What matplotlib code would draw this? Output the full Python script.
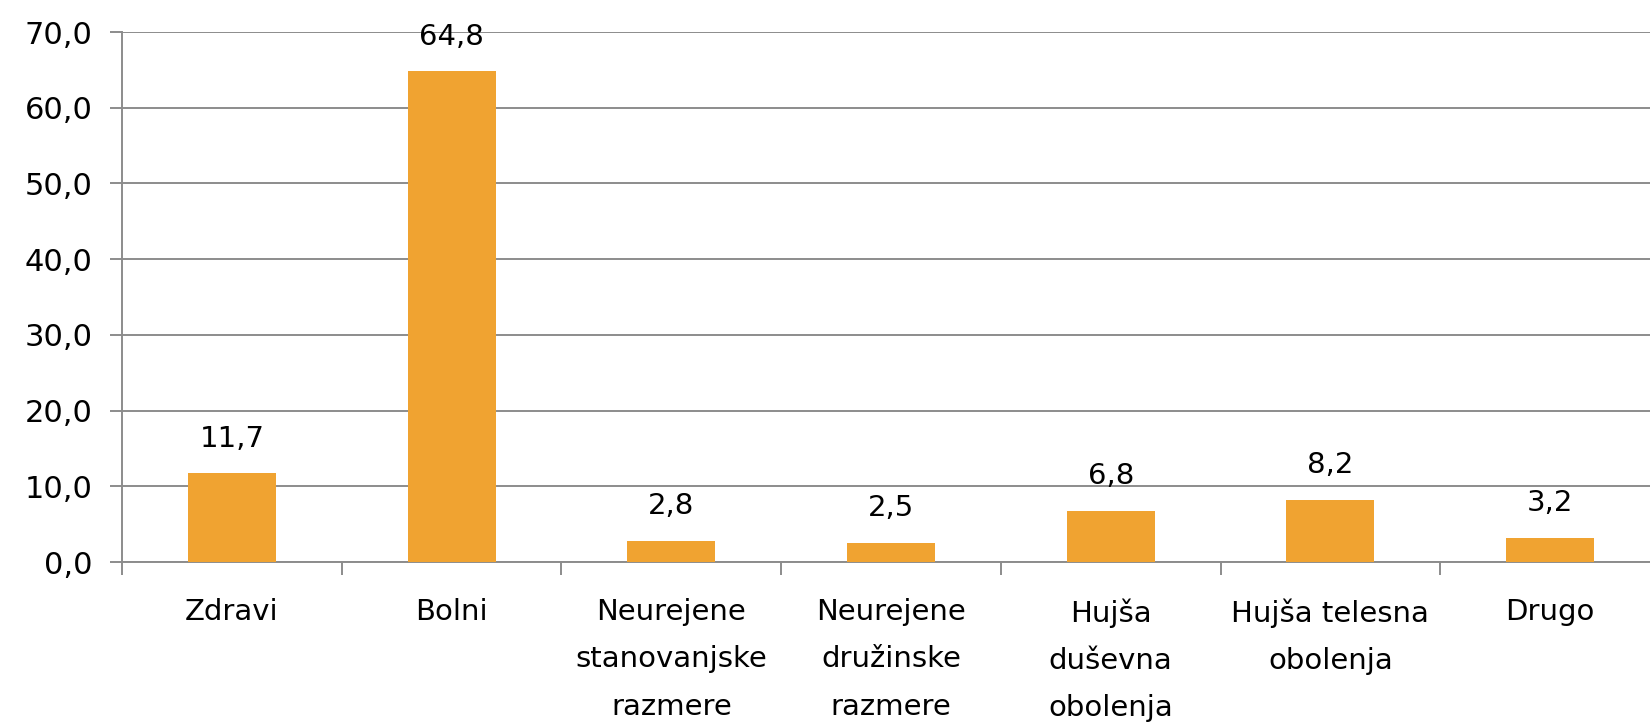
import matplotlib.pyplot as plt
import numpy as np

categories = ['Zdravi', 'Bolni', 'Neurejene\nstanovanjske\nrazmere', 'Neurejene\ndružinske\nrazmere',
              'Hujša\nduševna\nobolenja', 'Hujša telesna\nobolenja', 'Drugo']
values = [11.7, 64.8, 2.8, 2.5, 6.8, 8.2, 3.2]
yticks = [0, 10, 20, 30, 40, 50, 60, 70]

grey = '#8c8c8c'
bar_color = '#F0A331'

fig = plt.figure(figsize=(16.5, 7.24), dpi=100)
ax = fig.add_axes([122 / 1650, 162 / 724, 1538 / 1650, 530 / 724])

x = np.arange(len(categories))
ax.bar(x, values, width=0.4, color=bar_color, zorder=3)

for xi, v in zip(x, values):
    ax.annotate(f'{v:.1f}'.replace('.', ','), (xi, v), xytext=(0, 15), textcoords='offset points',
                ha='center', va='bottom', fontsize=21)

ax.set_xlim(-0.5, len(categories) - 0.5)
ax.set_ylim(0, 70)
ax.set_yticks(yticks)
ax.set_yticklabels([f'{t:.1f}'.replace('.', ',') for t in yticks], fontsize=22)
ax.yaxis.grid(True, color=grey, lw=1.4, zorder=0)

ax.set_xticks(x)
ax.set_xticklabels(categories, fontsize=21, linespacing=1.88)
ax.set_xticks(np.arange(-0.5, len(categories)), minor=True)
ax.tick_params(axis='x', which='major', length=0, pad=26)
ax.tick_params(axis='x', which='minor', length=9, width=1.4, color=grey, direction='out')
ax.tick_params(axis='y', length=9, width=1.4, color=grey, pad=12)

for s in ['top', 'right']:
    ax.spines[s].set_visible(False)
for s in ['left', 'bottom']:
    ax.spines[s].set_color(grey)
    ax.spines[s].set_linewidth(1.4)

fig.savefig('out.png', dpi=100)
